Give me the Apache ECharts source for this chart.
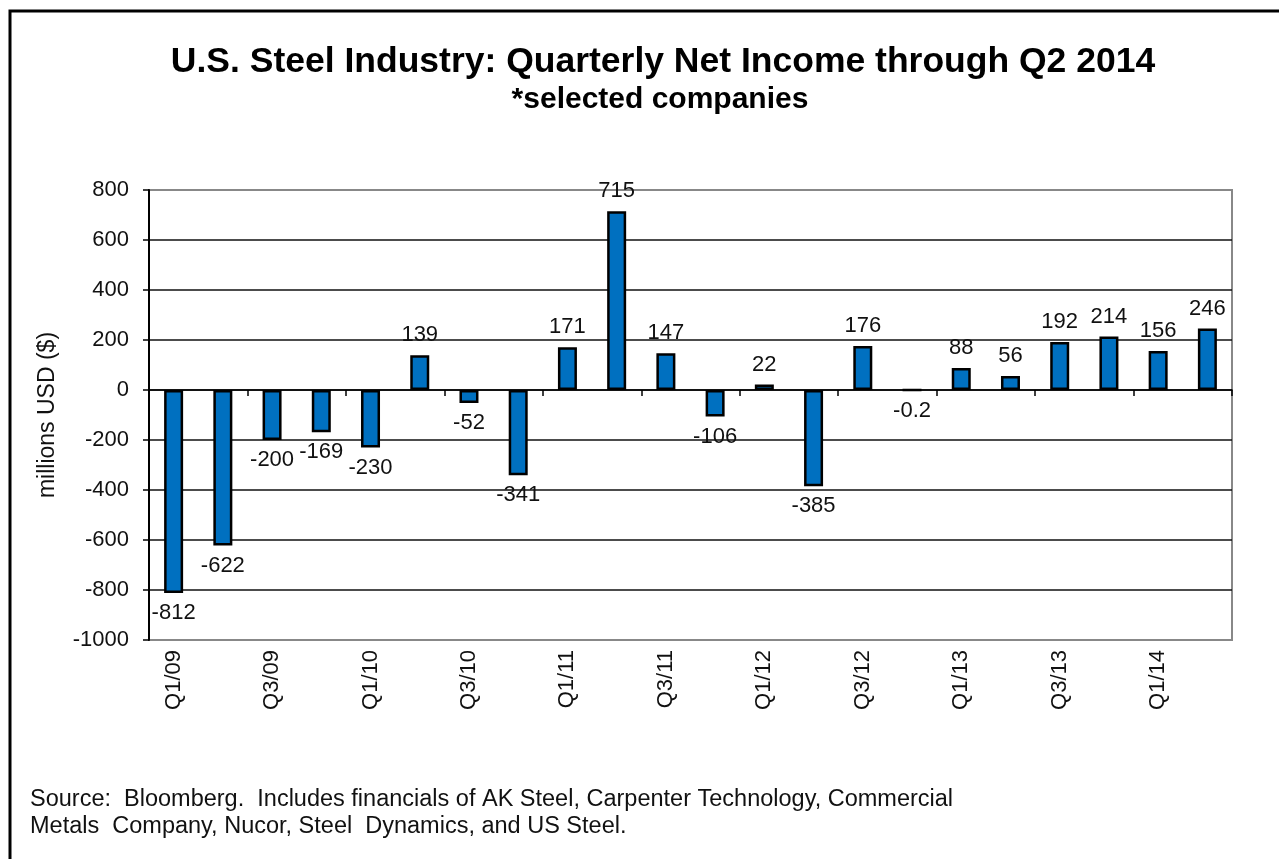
<!DOCTYPE html>
<html>
<head>
<meta charset="utf-8">
<style>
  html, body { margin: 0; padding: 0; background: #fff; }
  #chart { width: 1279px; height: 859px; }
</style>
<script src="https://cdn.jsdelivr.net/npm/echarts@6/dist/echarts.min.js"></script>
</head>
<body>
<div id="chart"></div>
<script>
// quarters Q1/09 .. Q2/14
const quarters = [
  'Q1/09', 'Q2/09', 'Q3/09', 'Q4/09',
  'Q1/10', 'Q2/10', 'Q3/10', 'Q4/10',
  'Q1/11', 'Q2/11', 'Q3/11', 'Q4/11',
  'Q1/12', 'Q2/12', 'Q3/12', 'Q4/12',
  'Q1/13', 'Q2/13', 'Q3/13', 'Q4/13',
  'Q1/14', 'Q2/14'
];
// net income, millions USD
const netIncome = [
  -812, -622, -200, -169,
  -230, 139, -52, -341,
  171, 715, 147, -106,
  22, -385, 176, -0.2,
  88, 56, 192, 214,
  156, 246
];
const yTicks = { min: -1000, max: 800, step: 200 };

const titleText = 'U.S. Steel Industry: Quarterly Net Income through Q2 2014';
const subtitleText = '*selected companies';
const sourceLines = [
  'Source:  Bloomberg.  Includes financials of AK Steel, Carpenter Technology, Commercial',
  'Metals  Company, Nucor, Steel  Dynamics, and US Steel.'
];

const font = '"Liberation Sans", Arial, sans-serif';
const chart = echarts.init(document.getElementById('chart'));

const barData = netIncome.map(v => ({
  value: v,
  label: { position: v < 0 ? 'bottom' : 'top' }
}));

chart.setOption({
  backgroundColor: '#fff',
  animation: false,
  textStyle: { fontFamily: font },
  title: [
    {
      text: titleText,
      left: 658, top: 39, textAlign: 'center',
      textStyle: { fontSize: 35.5, fontWeight: 'bold', color: '#000', fontFamily: font }
    },
    {
      text: subtitleText,
      left: 655, top: 80, textAlign: 'center',
      textStyle: { fontSize: 30, fontWeight: 'bold', color: '#000', fontFamily: font }
    },
    {
      text: sourceLines.join('\n'),
      left: 25, top: 781,
      textStyle: { fontSize: 23.5, fontWeight: 'normal', color: '#111', lineHeight: 27, fontFamily: font }
    }
  ],
  graphic: [
    {
      type: 'rect',
      shape: { x: 10, y: 11, width: 1400, height: 1000 },
      style: { fill: 'none', stroke: '#000', lineWidth: 3 },
      silent: true
    }
  ],
  grid: {
    left: 149, right: 47, top: 190, bottom: 219,
    show: true, borderColor: '#888', borderWidth: 2, backgroundColor: 'transparent'
  },
  xAxis: [
    {
      type: 'category',
      data: quarters,
      axisLine: { onZero: true, lineStyle: { color: '#000', width: 1.5 } },
      axisTick: { show: true, interval: 1, length: 6, lineStyle: { color: '#000', width: 1.5 } },
      axisLabel: { show: false },
      splitLine: { show: false }
    },
    {
      type: 'category',
      data: quarters,
      position: 'bottom',
      axisLine: { show: false, onZero: false },
      axisTick: { show: false },
      axisLabel: {
        interval: 1, rotate: 90, margin: 10,
        fontSize: 22, color: '#111', fontFamily: font
      }
    }
  ],
  yAxis: {
    type: 'value',
    min: yTicks.min, max: yTicks.max, interval: yTicks.step,
    name: 'millions USD ($)',
    nameLocation: 'middle',
    nameGap: 90,
    nameRotate: 90,
    nameTextStyle: { fontSize: 23, color: '#111', fontFamily: font },
    axisLine: { show: true, lineStyle: { color: '#000', width: 2 } },
    axisTick: { show: true, length: 6, lineStyle: { color: '#000', width: 1.5 } },
    axisLabel: {
      fontSize: 22, color: '#111', margin: 20, fontFamily: font,
      formatter: v => String(v)
    },
    splitLine: {
      show: true, showMinLine: false, showMaxLine: false,
      lineStyle: { color: '#111', width: 1.5 }
    }
  },
  series: [
    {
      type: 'bar',
      xAxisIndex: 0,
      data: barData,
      barWidth: 19,
      itemStyle: { color: '#0070C0', borderColor: '#000', borderWidth: 2.5 },
      label: {
        show: true, distance: 9,
        fontSize: 22, color: '#111', fontFamily: font
      }
    }
  ]
});
</script>
</body>
</html>
